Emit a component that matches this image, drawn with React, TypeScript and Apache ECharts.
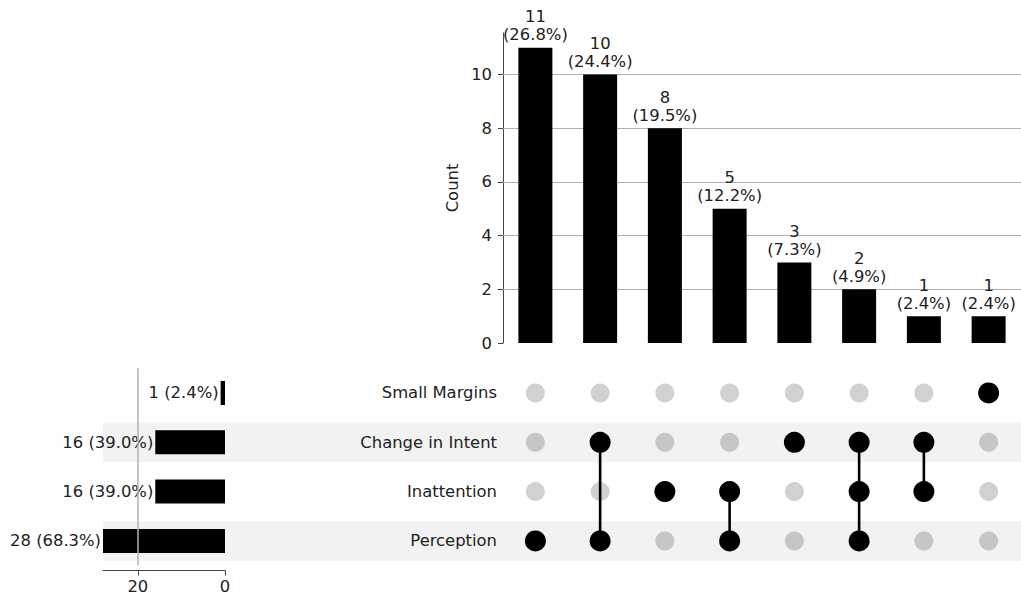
import React, { useEffect, useRef } from "react";
import * as echarts from "echarts";

// Sets, listed bottom to top as in the matrix
const setNames = ["Perception", "Inattention", "Change in Intent", "Small Margins"];
const setTotals = [28, 16, 16, 1];
const shadedSets = ["Perception", "Change in Intent"];

// Intersections, left to right
const intersectionCounts = [11, 10, 8, 5, 3, 2, 1, 1];
const intersectionMembers: string[][] = [
  ["Perception"],
  ["Change in Intent", "Perception"],
  ["Inattention"],
  ["Inattention", "Perception"],
  ["Change in Intent"],
  ["Change in Intent", "Inattention", "Perception"],
  ["Change in Intent", "Inattention"],
  ["Small Margins"],
];

const countTicks = [0, 2, 4, 6, 8, 10];
const countMax = 11.55;
const totalTicks = [0, 20];

const FONT = "DejaVu Sans";
const FS = 16.4;
const TXT = "#222";
const AX = "#444";

export default function App() {
  const ref = useRef<HTMLDivElement>(null);
  useEffect(() => {
    if (!ref.current) return;
    const chart = echarts.init(ref.current, undefined, { renderer: "svg" });
    const grand = intersectionCounts.reduce((a, b) => a + b, 0);
    const pct = (v: number) => ((v / grand) * 100).toFixed(1);
    const cols = intersectionCounts.map((_, i) => String(i));

    const activeDots: number[][] = [];
    const otherDots: number[][] = [];
    const links: number[][] = [];
    intersectionMembers.forEach((m, c) => {
      const idx = m.map((n) => setNames.indexOf(n));
      setNames.forEach((_, r) => {
        if (idx.includes(r)) activeDots.push([c, r]);
        else otherDots.push([c, r]);
      });
      if (idx.length > 1) links.push([c, Math.min(...idx), Math.max(...idx)]);
    });

    const matTop = 368.3;
    const matH = 197.3;

    chart.setOption({
      animation: false,
      textStyle: { fontFamily: FONT },
      grid: [
        { left: 503, top: 33, width: 521.6, height: 310 },
        { left: 103, top: matTop, width: 122, height: matH },
        { left: 503, top: matTop, width: 521.6, height: matH },
        { left: 103, top: matTop, width: 921.6, height: matH },
      ],
      xAxis: [
        {
          gridIndex: 0, type: "category", data: cols,
          axisLine: { show: false }, axisTick: { show: false }, axisLabel: { show: false },
        },
        {
          gridIndex: 1, type: "value", min: 0, max: 28, inverse: true, offset: 5,
          axisLine: { show: true, lineStyle: { color: AX, width: 1 } },
          axisTick: { show: true, length: 5, customValues: totalTicks, lineStyle: { color: AX } },
          axisLabel: { customValues: totalTicks, fontSize: FS, color: TXT, margin: 8, fontFamily: FONT },
          splitLine: { show: false },
        },
        {
          gridIndex: 2, type: "category", data: cols,
          axisLine: { show: false }, axisTick: { show: false }, axisLabel: { show: false },
        },
        {
          gridIndex: 3, type: "value", min: 0, max: 1, show: false,
        },
      ],
      yAxis: [
        {
          gridIndex: 0, type: "value", min: 0, max: countMax,
          name: "Count", nameLocation: "middle", nameGap: 41,
          nameTextStyle: { fontSize: FS, color: TXT, fontFamily: FONT },
          axisLine: { show: true, lineStyle: { color: AX, width: 1 } },
          axisTick: { show: true, length: 5, customValues: countTicks, lineStyle: { color: AX } },
          axisLabel: { customValues: countTicks, fontSize: FS, color: TXT, margin: 11, fontFamily: FONT },
          splitLine: { show: false },
        },
        {
          gridIndex: 1, type: "category", data: setNames, show: false,
        },
        {
          gridIndex: 2, type: "category", data: setNames,
          axisLine: { show: false }, axisTick: { show: false },
          axisLabel: { fontSize: FS, color: TXT, margin: 6, fontFamily: FONT },
        },
        {
          gridIndex: 3, type: "category", data: setNames, show: false,
        },
      ],
      series: [
        {
          type: "bar", xAxisIndex: 3, yAxisIndex: 3, z: 0, silent: true,
          barWidth: "80%",
          itemStyle: { color: "rgba(0,0,0,0.05)" },
          data: setNames.map((n) => (shadedSets.includes(n) ? 1 : "-")),
        },
        {
          type: "bar", xAxisIndex: 0, yAxisIndex: 0, z: 2, barWidth: 34,
          itemStyle: { color: "#000" },
          data: intersectionCounts,
          label: {
            show: true, position: "top", distance: 4, fontSize: FS, lineHeight: 18,
            color: TXT, fontFamily: FONT,
            formatter: (p: any) => `${p.value}\n(${pct(p.value)}%)`,
          },
          markLine: {
            z: 1, silent: true, symbol: "none", label: { show: false },
            lineStyle: { color: "#b0b0b0", width: 1, type: "solid" },
            data: countTicks.filter((t) => t > 0).map((t) => ({ yAxis: t })),
          },
        },
        {
          type: "bar", xAxisIndex: 1, yAxisIndex: 1, z: 2, barWidth: 24,
          itemStyle: { color: "#000" },
          data: setTotals,
          label: {
            show: true, position: "left", distance: 2, fontSize: FS,
            color: TXT, fontFamily: FONT,
            formatter: (p: any) => `${p.value} (${pct(p.value)}%)`,
          },
          markLine: {
            silent: true, symbol: "none", label: { show: false },
            lineStyle: { color: "#b0b0b0", width: 1.5, type: "solid" },
            data: totalTicks.filter((t) => t > 0).map((t) => ({ xAxis: t })),
          },
        },
        {
          type: "scatter", xAxisIndex: 2, yAxisIndex: 2, z: 2, silent: true,
          symbolSize: 19, itemStyle: { color: "rgba(0,0,0,0.18)", opacity: 1 },
          data: otherDots,
        },
        {
          type: "custom", xAxisIndex: 2, yAxisIndex: 2, z: 3, silent: true,
          encode: { x: 0, y: [1, 2] },
          data: links,
          renderItem: (_params: any, api: any) => {
            const a = api.coord([api.value(0), api.value(1)]);
            const b = api.coord([api.value(0), api.value(2)]);
            return {
              type: "line",
              shape: { x1: a[0], y1: a[1], x2: b[0], y2: b[1] },
              style: { stroke: "#000", lineWidth: 2.6 },
            };
          },
        },
        {
          type: "scatter", xAxisIndex: 2, yAxisIndex: 2, z: 4, silent: true,
          symbolSize: 21, itemStyle: { color: "#000", opacity: 1 },
          data: activeDots,
        },
      ],
    });
    return () => chart.dispose();
  }, []);
  return (
    <div
      ref={ref}
      style={{ position: "absolute", left: 0, top: 0, width: 1021, height: 598 }}
    />
  );
}
